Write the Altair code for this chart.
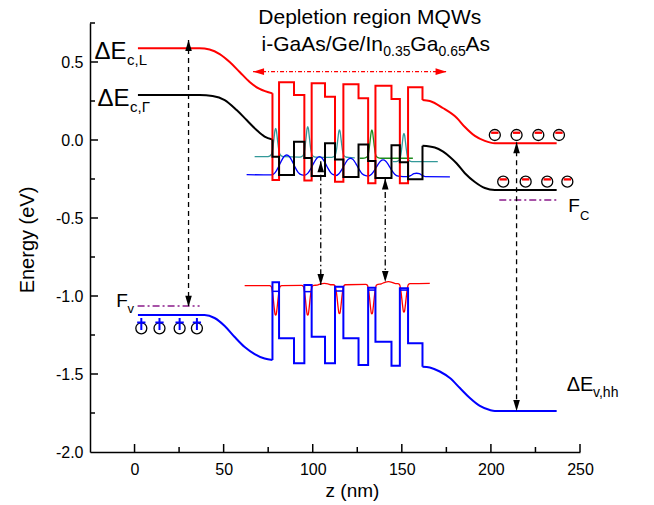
import altair as alt
import pandas as pd

FONT = "Liberation Sans"
W, H = 490, 429
Z_DOMAIN = [-25, 250]
E_DOMAIN = [-2.0, 0.75]

RED, BLACK, BLUE = "#FF0000", "#000000", "#0000FF"
TEAL, GREEN, PURPLE = "#339999", "#1E8C1E", "#8B1A8B"

# ---------------- axis ticks ----------------
x_major = [0, 50, 100, 150, 200, 250]
x_minor = [25, 75, 125, 175, 225]
y_major = [0.5, 0.0, -0.5, -1.0, -1.5, -2.0]
y_minor = [0.75, 0.25, -0.25, -0.75, -1.25, -1.75]

# ---------------- conduction band, L valley (red) ----------------
L_left_z = [1.9, 36.5, 42.1, 47.8, 53.4, 59.0, 64.6, 70.2, 77.4]
L_left_E = [0.588, 0.588, 0.580, 0.551, 0.500, 0.436, 0.372, 0.327, 0.299]
L_mqw_z = [77.4, 77.4, 81.1, 81.1, 89.5, 89.5, 95.3, 95.3, 99.4, 99.4, 106.9, 106.9,
           112.5, 112.5, 117.2, 117.2, 125.7, 125.7, 131.1, 131.1, 135.2, 135.2,
           144.2, 144.2, 148.9, 148.9, 153.5, 153.5, 161.6, 161.6]
L_mqw_E = [0.299, -0.256, -0.256, 0.370, 0.370, 0.288, 0.288, -0.260, -0.260, 0.363,
           0.363, 0.278, 0.278, -0.267, -0.267, 0.357, 0.357, 0.267, 0.267, -0.278,
           -0.278, 0.348, 0.348, 0.263, 0.263, -0.278, -0.278, 0.338, 0.338, 0.256]
L_right_z = [161.6, 165.7, 173.0, 180.9, 185.4, 191.0, 196.6, 202.2, 236.9]
L_right_E = [0.256, 0.250, 0.205, 0.141, 0.083, 0.026, -0.006, -0.021, -0.021]

# ---------------- conduction band, Gamma valley (black) ----------------
G_left_z = [1.9, 36.5, 43.8, 50.6, 57.3, 62.9, 68.5, 73.0, 77.4]
G_left_E = [0.288, 0.288, 0.282, 0.256, 0.192, 0.128, 0.064, 0.022, 0.003]
G_mqw_z = [77.4, 77.4, 81.1, 81.1, 89.5, 89.5, 95.3, 95.3, 99.4, 99.4, 106.9, 106.9,
           112.5, 112.5, 117.2, 117.2, 125.7, 125.7, 131.1, 131.1, 135.2, 135.2,
           144.2, 144.2, 148.9, 148.9, 153.5, 153.5, 161.6, 161.6]
G_mqw_E = [0.003, -0.107, -0.107, -0.224, -0.224, -0.011, -0.011, -0.115, -0.115, -0.231,
           -0.231, -0.021, -0.021, -0.125, -0.125, -0.237, -0.237, -0.029, -0.029, -0.135,
           -0.135, -0.243, -0.243, -0.034, -0.034, -0.143, -0.143, -0.252, -0.252, -0.037]
G_right_z = [161.6, 168.5, 173.2, 177.0, 180.7, 185.4, 191.0, 196.6, 202.2, 236.9]
G_right_E = [-0.037, -0.048, -0.075, -0.109, -0.149, -0.213, -0.269, -0.308, -0.321, -0.321]

# ---------------- valence band, heavy holes (blue) ----------------
V_left_z = [1.9, 39.3, 44.9, 50.6, 56.2, 61.8, 67.4, 73.0, 77.4]
V_left_E = [-1.122, -1.122, -1.141, -1.192, -1.263, -1.327, -1.372, -1.401, -1.410]
V_mqw_z = [77.4, 77.4, 81.1, 81.1, 89.5, 89.5, 95.3, 95.3, 99.4, 99.4, 106.9, 106.9,
           112.5, 112.5, 117.2, 117.2, 125.7, 125.7, 131.1, 131.1, 135.2, 135.2,
           144.2, 144.2, 148.9, 148.9, 153.5, 153.5, 161.6, 161.6]
V_mqw_E = [-1.410, -0.912, -0.912, -1.271, -1.271, -1.431, -1.431, -0.929, -0.929, -1.261,
           -1.261, -1.431, -1.431, -0.940, -0.940, -1.271, -1.271, -1.442, -1.442, -0.947,
           -0.947, -1.293, -1.293, -1.447, -1.447, -0.951, -0.951, -1.303, -1.303, -1.453]
V_right_z = [161.6, 165.7, 171.3, 177.0, 182.6, 188.2, 193.8, 199.4, 202.2, 236.9]
V_right_E = [-1.453, -1.458, -1.484, -1.526, -1.590, -1.654, -1.705, -1.731, -1.737, -1.737]

# hole ground levels inside the Ge wells
hlev_z1 = [77.4, 95.3, 112.5, 131.1, 148.9]
hlev_z2 = [81.1, 99.4, 117.2, 135.2, 153.5]
hlev_E = [-0.970, -0.972, -0.968, -0.962, -0.962]

# ---------------- wavefunctions ----------------
teal_a_z = [67.4, 74.1, 75.8, 76.8, 77.4, 77.9, 78.4, 78.8, 79.2, 79.6, 80.0, 80.5, 81.0, 81.6,
            82.6, 84.3, 92.1, 93.8, 94.8, 95.4, 95.9, 96.4, 96.8, 97.2, 97.6, 98.0, 98.5,
            99.0, 99.6, 100.6, 102.3, 109.9, 111.6, 112.6, 113.2, 113.7, 114.2, 114.6,
            115.0, 115.4, 115.8, 116.3, 116.8, 117.4, 118.4, 120.1, 123.6]
teal_a_E = [-0.106, -0.107, -0.103, -0.092, -0.067, -0.025, 0.024, 0.062, 0.075, 0.062, 0.024,
            -0.025, -0.067, -0.092, -0.103, -0.107, -0.110, -0.106, -0.094, -0.067, -0.022,
            0.030, 0.071, 0.085, 0.071, 0.030, -0.022, -0.067, -0.094, -0.106, -0.110,
            -0.112, -0.108, -0.098, -0.073, -0.033, 0.015, 0.052, 0.064, 0.052, 0.015,
            -0.033, -0.073, -0.098, -0.108, -0.112, -0.114]
green_z = [126.4, 128.1, 129.8, 130.8, 131.4, 131.9, 132.4, 132.8, 133.2, 133.6, 134.0, 134.5,
           135.0, 135.6, 136.6, 138.3, 156.2]
green_E = [-0.117, -0.117, -0.113, -0.103, -0.077, -0.036, 0.013, 0.051, 0.064, 0.051, 0.013,
           -0.036, -0.077, -0.103, -0.113, -0.117, -0.117]
teal_b_z = [145.0, 146.1, 147.8, 148.8, 149.4, 149.9, 150.4, 150.8, 151.2, 151.6, 152.0, 152.5,
            153.0, 153.6, 154.6, 156.3, 170.2]
teal_b_E = [-0.139, -0.139, -0.135, -0.124, -0.099, -0.057, -0.008, 0.030, 0.043, 0.030,
            -0.008, -0.057, -0.099, -0.124, -0.135, -0.139, -0.139]
ewf_z = [62.9, 76.9, 78.9, 80.9, 82.4, 83.9, 85.4, 86.9, 88.4, 89.9, 91.9, 93.9,
         95.3, 97.3, 99.3, 100.8, 102.3, 103.8, 105.3, 106.8, 108.3, 110.3, 112.3,
         112.7, 114.7, 116.7, 118.2, 119.7, 121.2, 122.7, 124.2, 125.7, 127.7, 129.7,
         131.0, 133.0, 135.0, 136.5, 138.0, 139.5, 141.0, 142.5, 144.0, 146.0, 148.0,
         153.3, 155.3, 156.8, 158.3, 159.8, 161.3, 163.3, 177.0]
ewf_E = [-0.222, -0.224, -0.209, -0.170, -0.134, -0.106, -0.096, -0.106, -0.134, -0.170, -0.209, -0.224,
         -0.226, -0.212, -0.176, -0.143, -0.117, -0.107, -0.117, -0.143, -0.176, -0.212, -0.226,
         -0.229, -0.216, -0.182, -0.151, -0.126, -0.117, -0.126, -0.151, -0.182, -0.216, -0.229,
         -0.231, -0.219, -0.188, -0.159, -0.136, -0.128, -0.136, -0.159, -0.188, -0.219, -0.231,
         -0.235, -0.226, -0.216, -0.213, -0.216, -0.226, -0.235, -0.236]
hwf_z = [61.8, 75.8, 76.7, 77.2, 77.8, 78.4, 78.9, 79.2, 79.5, 80.0, 80.6, 81.2, 81.7, 82.6,
         93.8, 94.7, 95.2, 95.8, 96.4, 96.9, 97.2, 97.5, 98.0, 98.6, 99.2, 99.7, 100.6,
         102.5, 104.5, 106.5, 108.5, 110.5,
         111.6, 112.5, 113.0, 113.6, 114.2, 114.7, 115.0, 115.3, 115.8, 116.4, 117.0, 117.5, 118.4,
         129.8, 130.7, 131.2, 131.8, 132.4, 132.9, 133.2, 133.5, 134.0, 134.6, 135.2, 135.7, 136.6,
         138.5, 140.5, 142.5, 144.5, 146.5,
         147.8, 148.7, 149.2, 149.8, 150.4, 150.9, 151.2, 151.5, 152.0, 152.6, 153.2, 153.7, 154.6,
         165.7]
hwf_E = [-0.934, -0.934, -0.940, -0.960, -1.011, -1.077, -1.118, -1.122, -1.118, -1.077, -1.011, -0.960, -0.940, -0.934,
         -0.932, -0.938, -0.959, -1.010, -1.076, -1.118, -1.122, -1.118, -1.076, -1.010, -0.959, -0.938, -0.932,
         -0.930, -0.922, -0.919, -0.922, -0.928,
         -0.928, -0.934, -0.954, -1.004, -1.069, -1.109, -1.113, -1.109, -1.069, -1.004, -0.954, -0.934, -0.928,
         -0.925, -0.931, -0.952, -1.003, -1.069, -1.111, -1.115, -1.111, -1.069, -1.003, -0.952, -0.931, -0.925,
         -0.922, -0.912, -0.908, -0.912, -0.921,
         -0.921, -0.926, -0.946, -0.996, -1.059, -1.099, -1.103, -1.099, -1.059, -0.996, -0.946, -0.926, -0.921,
         -0.919]

# ---------------- Fermi levels ----------------
fermi_z1 = [1.7, 204.7]
fermi_z2 = [36.5, 236.9]
fermi_E = [-1.064, -0.385]

# ---------------- arrows (z, tip top, tip bottom) ----------------
dash_arrow_z = [30.3, 214.4]
dash_arrow_top = [0.641, -0.015]
dash_arrow_bot = [-1.069, -1.737]
dd_arrow_z = [104.5, 140.7]
dd_arrow_top = [-0.137, -0.246]
dd_arrow_bot = [-0.929, -0.910]
region_z = [66.5, 175.1]
region_E = 0.438

# ---------------- carriers ----------------
e_row1_z = [202.2, 214.4, 226.6, 238.2]
e_row1_E = 0.032
e_row2_z = [206.9, 219.5, 231.6, 242.9]
e_row2_E = -0.267
h_z = [3.8, 14.0, 25.3, 35.0]
h_E = -1.207

# ---------------- text pieces (text, z, E, font size) ----------------
labels = [
    ("\u0394E", -22.5, 0.519, 24), ("c,L", -4.2, 0.481, 15),
    ("\u0394E", -20.8, 0.218, 24), ("c,\u0393", -2.5, 0.179, 15),
    ("F", -10.3, -1.069, 19), ("v", -3.9, -1.109, 13),
    ("F", 243.4, -0.460, 19), ("C", 250.0, -0.513, 13),
    ("\u0394E", 242.5, -1.609, 20), ("v,hh", 257.3, -1.647, 14),
    ("i-GaAs/Ge/In", 71.3, 0.571, 21), ("0.35", 139.6, 0.538, 14),
    ("Ga", 154.8, 0.571, 21), ("0.65", 170.6, 0.538, 14), ("As", 185.8, 0.571, 21),
]
title1 = ("Depletion region MQWs", 132.0, 0.744, 21)

# =====================================================================
xs = alt.Scale(domain=Z_DOMAIN, nice=False, zero=False)
ys = alt.Scale(domain=E_DOMAIN, nice=False, zero=False)
x_axis = alt.Axis(values=x_major, format="d", title="z (nm)", grid=False, ticks=False,
                  tickSize=0, labelFont=FONT, labelFontSize=16, labelColor="black",
                  labelPadding=9, labelFlush=False, labelOverlap=False,
                  domainColor="black", domainWidth=1.5, titleFont=FONT, titleFontSize=19,
                  titleFontWeight="normal", titleColor="black", titleX=262, titleY=44,
                  titleBaseline="alphabetic", titleAlign="center")
y_axis = alt.Axis(values=y_major, labelExpr="replace(format(datum.value, '.1f'), '\u2212', '-')",
                  title="Energy (eV)", grid=False, ticks=False, tickSize=0, labelFont=FONT,
                  labelFontSize=16, labelColor="black", labelPadding=7, labelFlush=False,
                  labelOverlap=False, domainColor="black", domainWidth=1.5, titleFont=FONT,
                  titleFontSize=20, titleFontWeight="normal", titleColor="black",
                  titleX=-57, titleY=H / 2 + 2, titleAngle=-90, titleBaseline="alphabetic",
                  titleAlign="center")


def X(f="z"):
    return alt.X(f + ":Q", scale=xs, axis=x_axis)


def Y(f="E"):
    return alt.Y(f + ":Q", scale=ys, axis=y_axis)


def curve(z, E, color, width=2.0, interp="linear"):
    d = pd.DataFrame({"z": z, "E": E, "i": list(range(len(z)))})
    return alt.Chart(d).mark_line(color=color, strokeWidth=width, interpolate=interp).encode(
        x=X(), y=Y(), order="i:Q")


UP = "M0,0L-0.6,2L0.6,2Z"
DOWN = "M0,0L-0.6,-2L0.6,-2Z"
LEFT = "M0,0L2,-0.6L2,0.6Z"
RIGHT = "M0,0L-2,-0.6L-2,0.6Z"
MINUS = "M-0.67,-0.62L0.67,-0.62L0.67,-0.2L-0.67,-0.2Z"
PLUS = "M-0.75,-1.05L0.75,-1.05M0,-1.85L0,0.3"


def points(z, E, shape, color, size=121, filled=True, sw=0.0):
    d = pd.DataFrame({"z": z, "E": E})
    return alt.Chart(d).mark_point(shape=shape, filled=filled, color=color, size=size,
                                   opacity=1, strokeWidth=sw).encode(x=X(), y=Y())


layers = []
# wavefunctions
layers += [
    curve(teal_a_z, teal_a_E, TEAL, 1.3, "monotone"),
    curve(teal_b_z, teal_b_E, TEAL, 1.3, "monotone"),
    curve(green_z, green_E, GREEN, 1.3, "monotone"),
    curve(ewf_z, ewf_E, BLUE, 1.3, "monotone"),
    curve(hwf_z, hwf_E, RED, 1.3, "monotone"),
]
# bands
for zz, ee, c in [(L_left_z, L_left_E, RED), (L_right_z, L_right_E, RED),
                  (G_left_z, G_left_E, BLACK), (G_right_z, G_right_E, BLACK),
                  (V_left_z, V_left_E, BLUE), (V_right_z, V_right_E, BLUE)]:
    layers.append(curve(zz, ee, c, 2.0, "monotone"))
for zz, ee, c in [(L_mqw_z, L_mqw_E, RED), (G_mqw_z, G_mqw_E, BLACK), (V_mqw_z, V_mqw_E, BLUE)]:
    layers.append(curve(zz, ee, c, 2.0, "linear"))

hl = pd.DataFrame({"z": hlev_z1, "z2": hlev_z2, "E": hlev_E})
layers.append(alt.Chart(hl).mark_rule(color=BLUE, strokeWidth=1.5).encode(x=X(), x2="z2:Q", y=Y()))

fl = pd.DataFrame({"z": fermi_z1, "z2": fermi_z2, "E": fermi_E})
layers.append(alt.Chart(fl).mark_rule(color=PURPLE, strokeWidth=1.5, strokeDash=[7, 3, 2, 3]).encode(
    x=X(), x2="z2:Q", y=Y()))

# arrows
da = pd.DataFrame({"z": dash_arrow_z, "E1": dash_arrow_top, "E2": dash_arrow_bot})
layers.append(alt.Chart(da).mark_rule(color=BLACK, strokeWidth=1.3, strokeDash=[5, 4]).encode(
    x=X(), y=Y("E1"), y2="E2:Q"))
dd = pd.DataFrame({"z": dd_arrow_z, "E1": dd_arrow_top, "E2": dd_arrow_bot})
layers.append(alt.Chart(dd).mark_rule(color=BLACK, strokeWidth=1.3, strokeDash=[6, 3, 1.5, 3]).encode(
    x=X(), y=Y("E1"), y2="E2:Q"))
layers += [
    points(dash_arrow_z, dash_arrow_top, UP, BLACK),
    points(dash_arrow_z, dash_arrow_bot, DOWN, BLACK),
    points(dd_arrow_z, dd_arrow_top, UP, BLACK),
    points(dd_arrow_z, dd_arrow_bot, DOWN, BLACK),
]
rg = pd.DataFrame({"z": [region_z[0]], "z2": [region_z[1]], "E": [region_E]})
layers.append(alt.Chart(rg).mark_rule(color=RED, strokeWidth=1.3, strokeDash=[4, 2, 1, 2]).encode(
    x=X(), x2="z2:Q", y=Y()))
layers += [
    points([region_z[0]], [region_E], LEFT, RED),
    points([region_z[1]], [region_E], RIGHT, RED),
]

# carriers
layers += [
    points(e_row1_z, [e_row1_E] * 4, "circle", BLACK, 121, False, 1.3),
    points(e_row2_z, [e_row2_E] * 4, "circle", BLACK, 121, False, 1.3),
    points(e_row1_z, [e_row1_E] * 4, MINUS, RED, 121, True, 0),
    points(e_row2_z, [e_row2_E] * 4, MINUS, RED, 121, True, 0),
    points(h_z, [h_E] * 4, "circle", BLACK, 121, False, 1.3),
    points(h_z, [h_E] * 4, PLUS, BLUE, 121, False, 2.0),
]

# manual inward ticks
layers += [
    alt.Chart(pd.DataFrame({"E": y_major[:-1]})).mark_rule(color=BLACK, strokeWidth=1.5).encode(
        y=Y(), x=alt.value(0), x2=alt.value(8)),
    alt.Chart(pd.DataFrame({"E": y_minor})).mark_rule(color=BLACK, strokeWidth=1.5).encode(
        y=Y(), x=alt.value(0), x2=alt.value(5)),
    alt.Chart(pd.DataFrame({"z": x_major})).mark_rule(color=BLACK, strokeWidth=1.5).encode(
        x=X(), y=alt.value(H), y2=alt.value(H - 8)),
    alt.Chart(pd.DataFrame({"z": x_minor})).mark_rule(color=BLACK, strokeWidth=1.5).encode(
        x=X(), y=alt.value(H), y2=alt.value(H - 5)),
]

# texts
tx = pd.DataFrame(labels, columns=["t", "z", "E", "fs"])
layers.append(alt.Chart(tx).mark_text(align="left", baseline="alphabetic", font=FONT,
                                      color=BLACK).encode(
    x=X(), y=Y(), text="t:N", size=alt.Size("fs:Q", scale=None)))
t1 = pd.DataFrame([title1], columns=["t", "z", "E", "fs"])
layers.append(alt.Chart(t1).mark_text(align="center", baseline="alphabetic", font=FONT,
                                      color=BLACK).encode(
    x=X(), y=Y(), text="t:N", size=alt.Size("fs:Q", scale=None)))

chart = alt.layer(*layers).properties(
    width=W, height=H,
    padding={"left": 90, "top": 23, "right": 74, "bottom": 53},
    autosize=alt.AutoSizeParams(type="none"),
).configure_view(stroke=None)

chart.save("out.html", embed_options={"renderer": "svg", "actions": False})
